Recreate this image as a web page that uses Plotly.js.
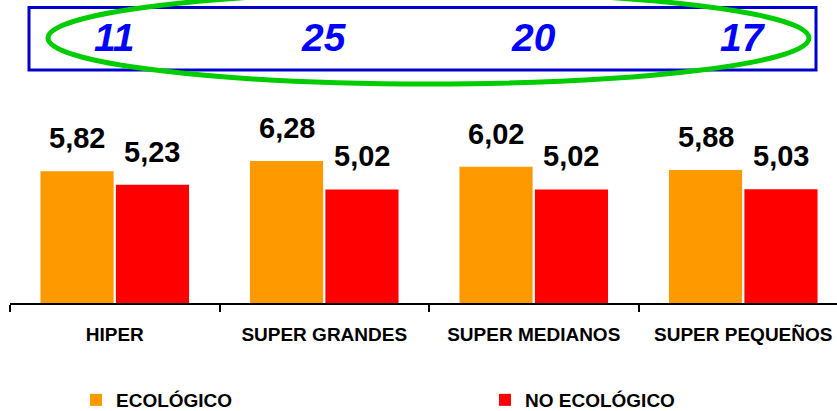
<!DOCTYPE html>
<html>
<head>
<meta charset="utf-8">
<script src="https://cdn.plot.ly/plotly-3.0.1.min.js"></script>
<style>html,body{margin:0;padding:0;background:#fff;}#chart{width:837px;height:411px;}</style>
</head>
<body>
<div id="chart"></div>
<script>
// ---- data ----
const categories = ["HIPER", "SUPER GRANDES", "SUPER MEDIANOS", "SUPER PEQUEÑOS"];
const seriesNames = ["ECOLÓGICO", "NO ECOLÓGICO"];
const ecologico = [5.82, 6.28, 6.02, 5.88];
const noEcologico = [5.23, 5.02, 5.02, 5.03];
const sampleCounts = [11, 25, 20, 17];

// ---- layout geometry ----
const W = 837, H = 411;
const M = {l: 10, r: 0, t: 0, b: 0, autoexpand: false};
const plotW = W - M.l - M.r;
const plotTopPx = 122, plotBottomPx = 303;
const pxX = p => (p - M.l) / plotW;   // pixel -> paper x
const pxY = p => (H - p) / H;         // pixel -> paper y
const bargap = 0.28, bargroupgap = 0.03;
const off = (1 - bargap) / 4;
const FONT = "Liberation Sans, Arial, sans-serif";
const fmt = v => v.toFixed(2).replace(".", ",");
const legendFont = {family: FONT, size: 19, color: "#000", weight: "bold"};

const traces = [
  {type: "bar", name: seriesNames[0], x: categories, y: ecologico, legend: "legend",
   marker: {color: "#FF9900"}, hoverinfo: "none"},
  {type: "bar", name: seriesNames[1], x: categories, y: noEcologico, legend: "legend2",
   marker: {color: "#FF0000"}, hoverinfo: "none"}
];

const annotations = [];
[ecologico, noEcologico].forEach((arr, s) => {
  arr.forEach((v, i) => {
    annotations.push({
      xref: "x", yref: "y", x: i + (s === 0 ? -off : off), y: v,
      text: fmt(v), showarrow: false, xanchor: "center", yanchor: "bottom", yshift: 15,
      font: {family: FONT, size: 29, color: "#000", weight: "bold"}
    });
  });
});
sampleCounts.forEach((n, i) => {
  annotations.push({
    xref: "x", yref: "paper", x: i, y: pxY(37.5),
    text: String(n), showarrow: false, xanchor: "center", yanchor: "middle",
    font: {family: FONT, size: 39, color: "#0000FF", weight: "bold", style: "italic"}
  });
});

const shapes = [
  {type: "rect", xref: "paper", yref: "paper", x0: pxX(29), x1: pxX(816), y0: pxY(70), y1: pxY(7.5),
   line: {color: "#0000CC", width: 3}, fillcolor: "rgba(0,0,0,0)"},
  {type: "circle", xref: "paper", yref: "paper", x0: pxX(48), x1: pxX(809), y0: pxY(84), y1: pxY(-8),
   line: {color: "#00CC00", width: 5}, fillcolor: "rgba(0,0,0,0)"}
];

const layout = {
  width: W, height: H,
  margin: M,
  paper_bgcolor: "#fff", plot_bgcolor: "#fff",
  barmode: "group", bargap: bargap, bargroupgap: bargroupgap,
  font: {family: FONT, color: "#000"},
  xaxis: {
    type: "category", range: [-0.5, -0.5 + plotW / 209.5],
    showline: true, linecolor: "#000", linewidth: 2,
    ticks: "outside", tickson: "boundaries", ticklen: 7, tickwidth: 2, tickcolor: "#000",
    ticklabelstandoff: 13,
    showgrid: false, zeroline: false, automargin: false,
    tickfont: {family: FONT, size: 19, color: "#000", weight: "bold"}
  },
  yaxis: {range: [0, 8], visible: false, showgrid: false, zeroline: false,
          domain: [pxY(plotBottomPx), pxY(plotTopPx)]},
  showlegend: true,
  legend: {orientation: "h", x: pxX(76), y: -8 / H, xanchor: "left", yanchor: "bottom",
           font: legendFont, bgcolor: "rgba(0,0,0,0)"},
  legend2: {orientation: "h", x: pxX(485), y: -8 / H, xanchor: "left", yanchor: "bottom",
            font: legendFont, bgcolor: "rgba(0,0,0,0)"},
  annotations: annotations,
  shapes: shapes
};

Plotly.newPlot("chart", traces, layout, {displayModeBar: false, staticPlot: true});
</script>
</body>
</html>
